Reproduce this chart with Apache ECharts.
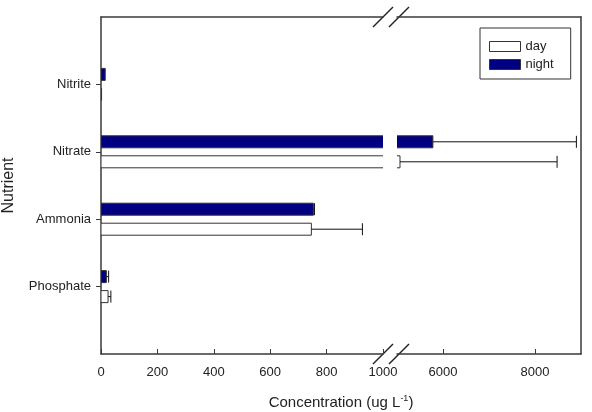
<!DOCTYPE html>
<html>
<head>
<meta charset="utf-8">
<script src="https://cdn.jsdelivr.net/npm/echarts@6/dist/echarts.min.js"></script>
<style>
  html, body { margin: 0; padding: 0; background: #fff; }
  #chart { width: 592px; height: 412px; }
</style>
</head>
<body>
<div id="chart"></div>
<script>
// values (ug/L); errors are one-sided, to the right
const categories = ['Phosphate', 'Ammonia', 'Nitrate', 'Nitrite'];
const dayValues = [25, 746, 5065, 2];
const dayErrors = [10, 181, 3415, 0];
const nightValues = [19, 753, 5780, 15];
const nightErrors = [8, 4, 3120, 0];
const lowTicks = [0, 200, 400, 600, 800, 1000];
const highTicks = [6000, 8000];

const font = 'Arial, "Liberation Sans", sans-serif';
const axisColor = '#3a3a3a';
const textColor = '#222';
// plot frame, split in two for the broken x axis
const L = 101, T = 17, H = 337, B1 = 383, B2 = 397, R = 581;

const rows = (vals, errs) => vals.map((v, i) => [v, i + 1, errs[i]]);

function barRenderer(offset) {
  return function (params, api) {
    const v = api.value(0), pos = api.value(1), err = api.value(2);
    const start = api.coord([0, pos]);
    const end = api.coord([v, pos]);
    const tip = api.coord([v + err, pos]);
    const cy = start[1] + offset;
    const half = 6;
    const children = [{
      type: 'rect',
      shape: { x: start[0], y: cy - half, width: end[0] - start[0], height: half * 2 },
      style: { fill: api.visual('color'), stroke: '#333', lineWidth: 1 }
    }];
    if (err > 0) {
      children.push({
        type: 'line',
        shape: { x1: end[0], y1: cy, x2: tip[0], y2: cy },
        style: { stroke: '#111', lineWidth: 1 }
      });
      children.push({
        type: 'line',
        shape: { x1: tip[0], y1: cy - half, x2: tip[0], y2: cy + half },
        style: { stroke: '#111', lineWidth: 1 }
      });
    }
    return { type: 'group', children: children };
  };
}

function xAxisPair(gridIndex, min, max, ticks) {
  const line = { show: true, lineStyle: { color: axisColor, width: 1.5 } };
  return [{
    type: 'value', gridIndex: gridIndex, position: 'bottom', min: min, max: max,
    axisLine: line,
    axisTick: { show: true, inside: true, length: 5, customValues: ticks, lineStyle: { color: axisColor } },
    axisLabel: {
      customValues: ticks, margin: 12, color: textColor, fontSize: 13, fontFamily: font,
      formatter: v => String(v)
    },
    splitLine: { show: false }
  }, {
    type: 'value', gridIndex: gridIndex, position: 'top', min: min, max: max,
    axisLine: line, axisTick: { show: false }, axisLabel: { show: false }, splitLine: { show: false }
  }];
}

function series(name, color, vals, errs, offset, xi, yi) {
  return {
    name: name, type: 'custom', clip: true,
    xAxisIndex: xi, yAxisIndex: yi,
    itemStyle: { color: color, borderColor: '#333', borderWidth: 1 },
    renderItem: barRenderer(offset),
    data: rows(vals, errs)
  };
}

const chart = echarts.init(document.getElementById('chart'));
chart.setOption({
  animation: false,
  backgroundColor: '#fff',
  textStyle: { fontFamily: font },
  grid: [
    { left: L, top: T, width: B1 - L, height: H },
    { left: B2, top: T, width: R - B2, height: H }
  ],
  xAxis: [].concat(
    xAxisPair(0, 0, 1000, lowTicks),
    xAxisPair(1, 5000, 9000, highTicks)
  ),
  yAxis: [{
    type: 'value', gridIndex: 0, min: 0, max: 5,
    name: 'Nutrient', nameLocation: 'middle', nameGap: 84, nameRotate: 90,
    nameTextStyle: { fontSize: 16, color: textColor, fontFamily: font },
    axisLine: { show: true, lineStyle: { color: axisColor, width: 1.5 } },
    axisTick: { show: true, length: 5, customValues: [1, 2, 3, 4], lineStyle: { color: axisColor } },
    axisLabel: {
      customValues: [1, 2, 3, 4], margin: 10, color: textColor, fontSize: 13, fontFamily: font,
      formatter: v => categories[v - 1] || ''
    },
    splitLine: { show: false }
  }, {
    type: 'value', gridIndex: 1, min: 0, max: 5, position: 'right',
    axisLine: { show: true, lineStyle: { color: axisColor, width: 1.5 } },
    axisTick: { show: false }, axisLabel: { show: false }, splitLine: { show: false }
  }],
  legend: {
    orient: 'vertical', left: 480, top: 28,
    padding: [12, 17, 8, 9], itemWidth: 31, itemHeight: 10, itemGap: 5,
    borderColor: '#333', borderWidth: 1,
    textStyle: { fontSize: 13, color: textColor, fontFamily: font },
    data: [
      { name: 'day', icon: 'rect', itemStyle: { color: '#fff', borderColor: '#333', borderWidth: 1 } },
      { name: 'night', icon: 'rect', itemStyle: { color: '#000080', borderColor: '#333', borderWidth: 1 } }
    ]
  },
  graphic: [
    // break marks on the bottom and top axis lines
    { type: 'line', shape: { x1: B1 - 10, y1: T + H + 10, x2: B1 + 10, y2: T + H - 10 }, style: { stroke: '#222', lineWidth: 1.5 } },
    { type: 'line', shape: { x1: B2 - 8, y1: T + H + 10, x2: B2 + 12, y2: T + H - 10 }, style: { stroke: '#222', lineWidth: 1.5 } },
    { type: 'line', shape: { x1: B1 - 10, y1: T + 10, x2: B1 + 10, y2: T - 10 }, style: { stroke: '#222', lineWidth: 1.5 } },
    { type: 'line', shape: { x1: B2 - 8, y1: T + 10, x2: B2 + 12, y2: T - 10 }, style: { stroke: '#222', lineWidth: 1.5 } },
    {
      type: 'text', x: (L + R) / 2, y: 403,
      style: {
        text: '{a|Concentration (ug L}{s|-1}{a|)}',
        align: 'center', verticalAlign: 'middle',
        rich: {
          a: { fontSize: 15, fill: textColor, fontFamily: font },
          s: { fontSize: 9, fill: textColor, fontFamily: font, padding: [0, 0, 9, 0] }
        }
      }
    }
  ],
  series: [
    series('night', '#000080', nightValues, nightErrors, -10, 0, 0),
    series('day', '#fff', dayValues, dayErrors, 10, 0, 0),
    series('night', '#000080', nightValues, nightErrors, -10, 2, 1),
    series('day', '#fff', dayValues, dayErrors, 10, 2, 1)
  ]
});
</script>
</body>
</html>
